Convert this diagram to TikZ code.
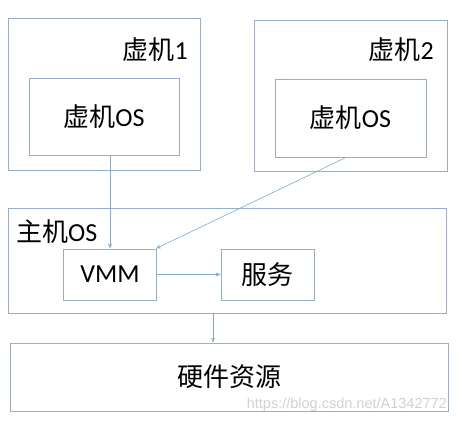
\documentclass[tikz,border=0pt]{standalone}
\usepackage{fontspec}
\setmainfont{Carlito}
\newfontfamily\cjk{Noto Sans CJK SC}
\newfontfamily\wm{Liberation Sans}
\usetikzlibrary{arrows.meta}
\definecolor{boxc}{RGB}{150,176,204}
\definecolor{arrc}{RGB}{130,170,210}
\tikzset{
  box/.style={draw=boxc, line width=0.9pt, rectangle, inner sep=0pt},
  lbl/.style={inner sep=0pt, font=\fontsize{26}{28}\selectfont},
  arr/.style={draw=arrc, line width=0.6pt, -{Stealth[length=5pt,width=4pt]}}
}
\begin{document}
\begin{tikzpicture}[x=1pt,y=-1pt]
\useasboundingbox (0,0) rectangle (458,425);
% virtual machine 1
\node[box, minimum width=192pt, minimum height=152pt] (vm1) at (104,94) {};
\node[box, minimum width=150pt, minimum height=77pt, lbl] (os1) at (104,116.5) {{\cjk 虚机}OS};
\node[lbl, anchor=east] (l1) at (188,50) {{\cjk 虚机}1};
% virtual machine 2
\node[box, minimum width=193pt, minimum height=151pt] (vm2) at (350.5,95.5) {};
\node[box, minimum width=151pt, minimum height=78pt, lbl] (os2) at (350.5,118) {{\cjk 虚机}OS};
\node[lbl, anchor=east] (l2) at (434,50) {{\cjk 虚机}2};
% host
\node[box, minimum width=438pt, minimum height=105pt] (host) at (227,260.5) {};
\node[lbl, anchor=west] (lh) at (16,232) {{\cjk 主机}OS};
\node[box, minimum width=93pt, minimum height=51pt, lbl] (vmm) at (110,274.5) {VMM};
\node[box, minimum width=93pt, minimum height=51pt, lbl] (svc) at (267.5,274.5) {\cjk 服务};
% hardware
\node[box, minimum width=438pt, minimum height=68pt, lbl] (hw) at (229,377) {\cjk 硬件资源};
% connectors
\coordinate (a1) at (os1.south -| vmm.north);
\draw[arr] (a1) -- (vmm.north);
\coordinate (a2) at ([xshift=-4.5pt]os2.south);
\draw[arr] (a2) -- ([xshift=-1pt]vmm.north east);
\draw[arr] (vmm.east) -- (svc.west);
\coordinate (a3) at ([xshift=-14pt]host.south);
\coordinate (a4) at (a3 |- hw.north);
\draw[arr] (a3) -- (a4);
% watermark
\node[inner sep=0pt, anchor=east, text=black!18, font=\wm\fontsize{14.5}{16}\selectfont] (wmk) at (447,405) {https://blog.csdn.net/A1342772};
\end{tikzpicture}
\end{document}
